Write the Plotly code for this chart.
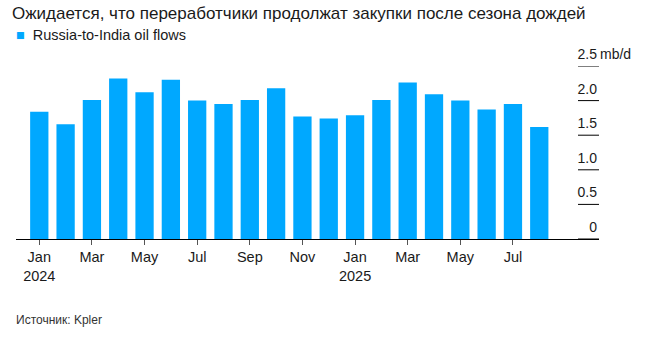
import plotly.graph_objects as go

# ---- data ----
months = ["2024-01", "2024-02", "2024-03", "2024-04", "2024-05", "2024-06",
          "2024-07", "2024-08", "2024-09", "2024-10", "2024-11", "2024-12",
          "2025-01", "2025-02", "2025-03", "2025-04", "2025-05", "2025-06",
          "2025-07", "2025-08"]
flows = [1.84, 1.66, 2.01, 2.32, 2.12, 2.30, 2.00, 1.95, 2.01, 2.18,
         1.77, 1.74, 1.79, 2.01, 2.26, 2.09, 2.00, 1.87, 1.95, 1.62]
x_tick_vals = ["2024-01", "2024-03", "2024-05", "2024-07", "2024-09", "2024-11",
               "2025-01", "2025-03", "2025-05", "2025-07"]
x_tick_text = ["Jan<br>2024", "Mar", "May", "Jul", "Sep", "Nov",
               "Jan<br>2025", "Mar", "May", "Jul"]
y_tick_vals = [0, 0.5, 1.0, 1.5, 2.0, 2.5]
y_tick_text = ["0", "0.5", "1.0", "1.5", "2.0", "2.5"]
series_name = "Russia-to-India oil flows"
title_text = "Ожидается, что переработчики продолжат закупки после сезона дождей"
source_text = "Источник: Kpler"
unit_text = "mb/d"

BLUE = "#00a8ff"
FONT = "Liberation Sans"

W, H = 648, 338
ml, mr, mt, mb = 16, 49, 66, 99
pw, ph = W - ml - mr, H - mt - mb
STUB_W = 21  # length (px) of the short reference lines at the right edge


def px_x(px):
    return (px - ml) / pw


def px_y(py):
    return (H - mb - py) / ph


fig = go.Figure()
fig.add_trace(go.Bar(x=months, y=flows, marker_color=BLUE, marker_line_width=0,
                     name=series_name, showlegend=False))

fig.update_layout(
    width=W, height=H,
    margin=dict(l=ml, r=mr, t=mt, b=mb, pad=0),
    paper_bgcolor="white", plot_bgcolor="white",
    bargap=0.305,
    font=dict(family=FONT, color="#1a1a1a"),
    title=dict(text=title_text, xref="container", yref="container",
               x=12 / W, xanchor="left", y=1 - 13 / H, yanchor="middle",
               font=dict(size=17, family=FONT, color="#1a1a1a")),
)

fig.update_xaxes(
    type="category", categoryorder="array", categoryarray=months,
    range=[-0.885, 21.27],
    tickmode="array", tickvals=x_tick_vals, ticktext=x_tick_text,
    ticks="outside", ticklen=5, tickcolor="#555", tickwidth=1,
    showline=True, linecolor="#000", linewidth=1,
    showgrid=False, zeroline=False,
    tickfont=dict(size=14.5, family=FONT, color="#1a1a1a"),
)

fig.update_yaxes(
    range=[0, 2.5], side="right",
    tickmode="array", tickvals=y_tick_vals, ticktext=y_tick_text,
    ticks="", ticklabelposition="inside", ticklabelshift=-12,
    ticklabelstandoff=-1, ticklabeloverflow="allow",
    showline=False, showgrid=False, zeroline=False,
    tickfont=dict(size=14, family=FONT, color="#1a1a1a"),
)

# short reference lines at each y tick, right edge of the plot
for v in y_tick_vals:
    fig.add_shape(type="line", xref="paper", yref="y",
                  x0=1 - STUB_W / pw, x1=1, y0=v, y1=v,
                  line=dict(color="#000", width=1))

fig.add_annotation(
    xref="paper", yref="paper", x=px_x(14), y=px_y(34.5),
    xanchor="left", yanchor="middle",
    text=f'<span style="color:{BLUE}">■</span>  {series_name}',
    showarrow=False, font=dict(size=14.5, family=FONT, color="#1a1a1a"),
    align="left",
)
fig.add_annotation(
    xref="paper", yref="y", x=1, y=2.5, xanchor="left", yanchor="middle",
    yshift=12, xshift=-1,
    text=unit_text, showarrow=False,
    font=dict(size=14, family=FONT, color="#1a1a1a"),
)
fig.add_annotation(
    xref="paper", yref="paper", x=px_x(14), y=px_y(320),
    xanchor="left", yanchor="middle",
    text=source_text, showarrow=False,
    font=dict(size=12, family=FONT, color="#333"),
)

fig.write_html("out.html")
